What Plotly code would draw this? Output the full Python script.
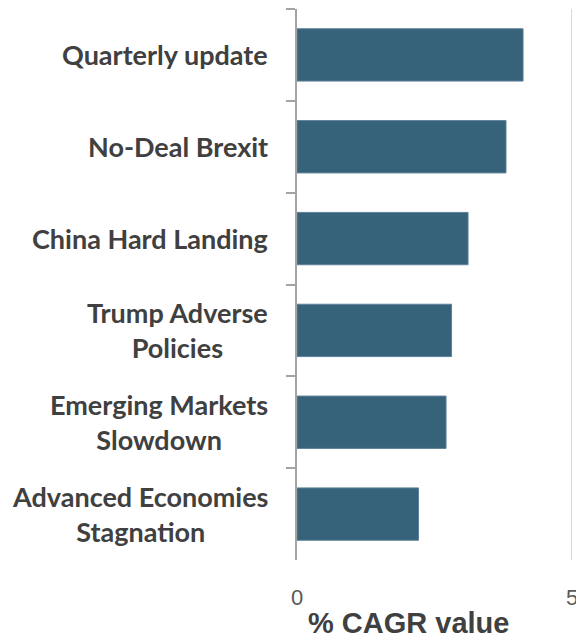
import plotly.graph_objects as go

# Scenario labels (top to bottom) and their % CAGR values
scenarios = [
    "Quarterly update",
    "No-Deal Brexit",
    "China Hard Landing",
    "Trump Adverse<br>Policies",
    "Emerging Markets<br>Slowdown",
    "Advanced Economies<br>Stagnation",
]
cagr = [4.11, 3.80, 3.11, 2.81, 2.71, 2.21]
x_ticks = [0, 5]
x_title = "% CAGR value"

BAR = "#36627a"
LABEL = "#404040"
AXIS = "#a3a3a3"

fig = go.Figure(
    go.Bar(
        x=cagr,
        y=scenarios,
        orientation="h",
        marker=dict(color=BAR, line=dict(color="#5f8298", width=1)),
        width=0.57,
        hoverinfo="x+y",
    )
)

# category labels, centred line-by-line and right-aligned against the axis
for s in scenarios:
    fig.add_annotation(
        xref="paper", x=0, xanchor="right", xshift=-27,
        yref="y", y=s, yanchor="middle",
        text=s, align="center", showarrow=False,
        font=dict(family="Lato", size=27, color=LABEL, weight="bold"),
    )

fig.add_annotation(
    xref="paper", x=0.407, xanchor="center",
    yref="paper", y=-0.114, yanchor="middle",
    text=x_title, showarrow=False,
    font=dict(family="Liberation Sans", size=29, color=LABEL, weight="bold"),
)

# light reference line at the top of the value range
fig.add_shape(
    type="line", xref="x", yref="paper",
    x0=x_ticks[-1], x1=x_ticks[-1], y0=0, y1=1,
    line=dict(color="#d9d9d9", width=2),
    layer="below",
)

fig.update_layout(
    width=576, height=638,
    margin=dict(l=297, r=4, t=9, b=78),
    plot_bgcolor="white", paper_bgcolor="white",
    showlegend=False,
    xaxis=dict(
        range=[0, 5], tickvals=x_ticks, ticktext=[str(v) for v in x_ticks],
        showgrid=False,
        zeroline=False, showline=False, ticks="",
        ticklabelstandoff=22,
        ticklabeloverflow="allow",
        automargin=False,
        tickfont=dict(family="Liberation Sans", size=22, color="#595959"),
        fixedrange=True,
    ),
    yaxis=dict(
        categoryorder="array", categoryarray=scenarios,
        autorange="reversed",
        showline=True, linecolor=AXIS, linewidth=1.5,
        ticks="outside", tickson="boundaries", ticklen=9,
        tickcolor=AXIS, tickwidth=1.5,
        showticklabels=False, showgrid=False,
        automargin=False,
        fixedrange=True,
    ),
)

fig.write_html("out.html")
